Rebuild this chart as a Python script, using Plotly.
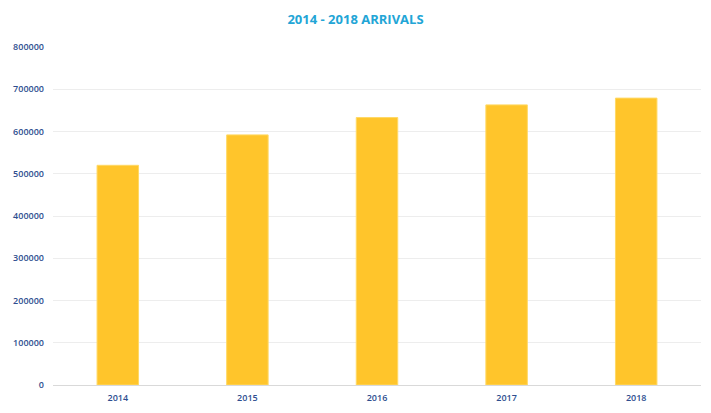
import plotly.graph_objects as go

years = ["2014", "2015", "2016", "2017", "2018"]
arrivals = [520000, 592000, 633000, 663000, 679000]
y_ticks = [0, 100000, 200000, 300000, 400000, 500000, 600000, 700000, 800000]

FONT = "Open Sans, Liberation Sans, sans-serif"

fig = go.Figure(go.Bar(
    x=years, y=arrivals,
    marker=dict(color="#FFC52B", line=dict(color="#FFD966", width=1)),
))

fig.update_layout(
    width=711, height=413,
    margin=dict(l=53, r=10, t=47, b=28, autoexpand=False),
    paper_bgcolor="white", plot_bgcolor="white",
    bargap=0.68,
    showlegend=False,
    title=dict(text="<b>2014 - 2018 ARRIVALS</b>", x=0.5, xanchor="center", y=0.953, yanchor="middle",
               font=dict(family=FONT, size=13, color="#22A5D6")),
    font=dict(family=FONT),
)
fig.update_yaxes(
    range=[0, 800000], tickvals=y_ticks, ticktext=[str(v) for v in y_ticks],
    showgrid=True, gridcolor="#EDEDED", gridwidth=1,
    zeroline=True, zerolinecolor="#D9D9D9", zerolinewidth=1,
    tickfont=dict(size=9, color="#2E4E8F", family=FONT, weight=600),
    ticks="", ticklen=0, showline=False, ticklabelstandoff=8, automargin=False,
)
fig.update_xaxes(
    tickfont=dict(size=9, color="#2E4E8F", family=FONT, weight=600),
    showline=False, ticks="", showgrid=False, ticklabelstandoff=6, automargin=False,
)

fig.write_html("out.html", config={"displayModeBar": False},
               post_script="document.body.style.margin='0';")
